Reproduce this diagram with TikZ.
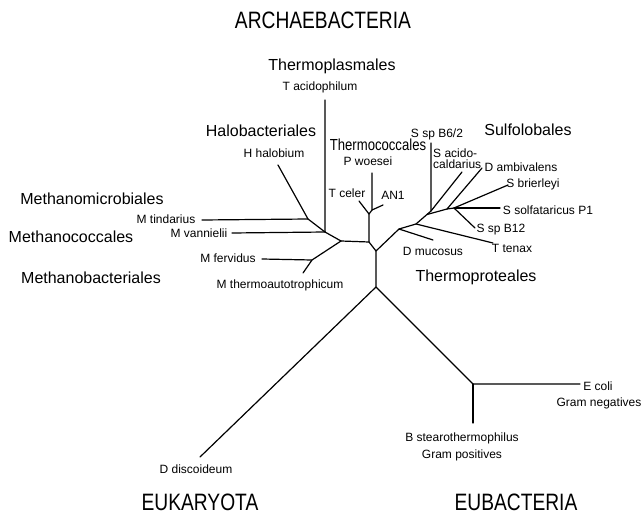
\documentclass[tikz,border=0pt]{standalone}
\usepackage{fontspec}
\setmainfont{Liberation Sans}
\newfontfamily\bigfont{Liberation Sans}[FakeStretch=0.81]
\newfontfamily\condfont{Liberation Sans}[FakeStretch=0.82]
\begin{document}
\begin{tikzpicture}[x=1pt,y=-1pt,
  br/.style={line width=1.2pt,line cap=round,line join=round},
  bigl/.style={font=\bigfont\fontsize{23.7}{26}\selectfont,inner sep=0pt},
  medl/.style={font=\fontsize{16}{18}\selectfont,inner sep=0pt},
  smll/.style={font=\fontsize{12}{13}\selectfont,inner sep=0pt,align=left}]
\useasboundingbox (0,0) rectangle (643,519);
\fill[white] (0,0) rectangle (643,519);
% internal and end points
\coordinate (R) at (376,287);
\coordinate (Dd) at (200,457);
\coordinate (K) at (473,384);
\coordinate (Ec) at (580,384);
\coordinate (Bs) at (473,423);
\coordinate (A) at (376,251);
\coordinate (H1) at (399,229);
\coordinate (B) at (369,242);
\coordinate (C) at (341,241);
\coordinate (D) at (369,214);
\coordinate (D2) at (372,210);
\coordinate (Pw) at (372,173);
\coordinate (An) at (383,205);
\coordinate (Tc) at (359,201);
\coordinate (E) at (325,232);
\coordinate (F) at (308,219);
\coordinate (Hh) at (278,165);
\coordinate (Mt) at (202,220);
\coordinate (Mv) at (232,233);
\coordinate (Ta) at (325,100);
\coordinate (G) at (312,260);
\coordinate (Mf) at (262,259);
\coordinate (Mth) at (303,273);
\coordinate (Dm) at (433,240);
\coordinate (J) at (416,224);
\coordinate (Tt) at (493,243);
\coordinate (P) at (427,214.5);
\coordinate (L) at (431,211);
\coordinate (B6) at (431,143);
\coordinate (Sa) at (462,172);
\coordinate (N) at (447,209);
\coordinate (Da) at (482,168);
\coordinate (M) at (454,208);
\coordinate (Sb) at (508,185);
\coordinate (Ss) at (500,208);
\coordinate (S12) at (475,228);
% branches
\draw[br] (Dd) -- (R) -- (K) -- (Ec);
\draw[br] (K) -- (Bs);
\draw[br] (R) -- (A) -- (B) -- (C);
\draw[br] (B) -- (D) -- (Tc);
\draw[br] (D) -- (D2) -- (Pw);
\draw[br] (D2) -- (An);
\draw[br] (C) -- (E) -- (Ta);
\draw[br] (E) -- (Mv);
\draw[br] (E) -- (F) -- (Hh);
\draw[br] (F) -- (Mt);
\draw[br] (C) -- (G) -- (Mf);
\draw[br] (G) -- (Mth);
\draw[br] (A) -- (H1) -- (Dm);
\draw[br] (H1) -- (J) -- (Tt);
\draw[br] (J) -- (L) -- (B6);
\draw[br] (L) -- (Sa);
\draw[br] (P) -- (N) -- (M) -- (Sb);
\draw[br] (N) -- (Da);
\draw[br] (M) -- (Ss);
\draw[br] (M) -- (S12);
% big labels
\node[bigl] (arch) at (323,20) {ARCHAEBACTERIA};
\node[bigl] (euk) at (200,502) {EUKARYOTA};
\node[bigl] (eub) at (516,502) {EUBACTERIA};
% group labels
\node[medl] (tpl) at (332,66) {Thermoplasmales};
\node[medl] (hal) at (261,131) {Halobacteriales};
\node[medl,font=\condfont\fontsize{16}{18}\selectfont] (tco) at (378,145) {Thermococcales};
\node[medl] (sul) at (528,130) {Sulfolobales};
\node[medl] (mmi) at (92,199) {Methanomicrobiales};
\node[medl] (mco) at (71,237) {Methanococcales};
\node[medl] (mba) at (91,278) {Methanobacteriales};
\node[medl] (tpr) at (476,277) {Thermoproteales};
% species labels
\node[smll] (lta) at (320,87) {T acidophilum};
\node[smll] (lhh) at (274,153) {H halobium};
\node[smll] (lpw) at (368,161) {P woesei};
\node[smll] (ltc) at (347,193) {T celer};
\node[smll] (lan) at (393,195) {AN1};
\node[smll] (lb6) at (437,134) {S sp B6/2};
\node[smll,anchor=west] (lsa) at (433,159) {S acido-\\[-2pt]caldarius};
\node[smll] (lda) at (521,167) {D ambivalens};
\node[smll] (lsb) at (533,184) {S brierleyi};
\node[smll] (lss) at (548,210) {S solfataricus P1};
\node[smll] (ls12) at (501,230) {S sp B12};
\node[smll] (ltt) at (512,248) {T tenax};
\node[smll] (ldm) at (433,251) {D mucosus};
\node[smll] (lmt) at (166,219) {M tindarius};
\node[smll] (lmv) at (199,233) {M vannielii};
\node[smll] (lmf) at (228,258) {M fervidus};
\node[smll] (lmth) at (280,285) {M thermoautotrophicum};
\node[smll] (lec) at (598,386) {E coli};
\node[smll] (lgn) at (599,403) {Gram negatives};
\node[smll] (lbs) at (462,438) {B stearothermophilus};
\node[smll] (lgp) at (462,455) {Gram positives};
\node[smll] (ldd) at (196,469) {D discoideum};
\end{tikzpicture}
\end{document}
